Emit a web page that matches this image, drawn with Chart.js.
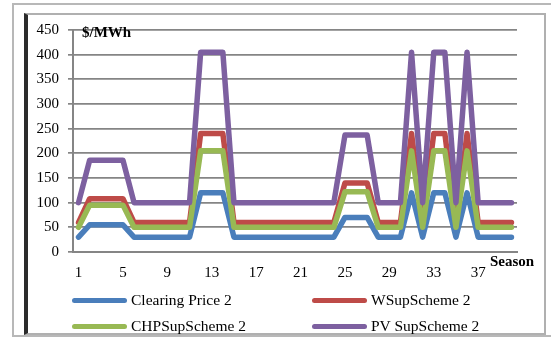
<!DOCTYPE html>
<html>
<head>
<meta charset="utf-8">
<script src="https://cdn.jsdelivr.net/npm/chart.js@4.4.1/dist/chart.umd.min.js"></script>
<style>
  html, body { margin: 0; padding: 0; background: #fff; }
  body { width: 551px; height: 343px; position: relative; overflow: hidden; font-family: "Liberation Serif", "Times New Roman", serif; }
  #outer { position: absolute; left: 12px; top: 3px; width: 560px; height: 334px; border: 2px solid #b8b8b8; box-sizing: border-box; }
  #inner { position: absolute; left: 24px; top: 13px; width: 522px; height: 322px; border: 2px solid #b0b0b0; border-left: 4px solid #2b2b2b; box-sizing: border-box; }
  #c { position: absolute; left: 0; top: 0; }
  .lbl { position: absolute; font-weight: bold; font-size: 15px; color: #000; white-space: nowrap; }
  .leg { position: absolute; display: flex; align-items: center; font-size: 15.5px; color: #000; white-space: nowrap; }
  .leg span.sw { display: inline-block; width: 55px; height: 5px; border-radius: 3px; margin-right: 4px; }
</style>
</head>
<body>
<div id="outer"></div>
<div id="inner"></div>
<canvas id="c" width="551" height="343"></canvas>
<div class="lbl" style="left:82px; top:24px;">$/MWh</div>
<div class="lbl" style="left:490px; top:253px;">Season</div>
<div id="legend"></div>
<script>
const seasons = ['1','2','3','4','5','6','7','8','9','10','11','12','13','14','15','16','17','18','19','20','21','22','23','24','25','26','27','28','29','30','31','32','33','34','35','36','37','38','39','40'];
const seriesNames = ['Clearing Price 2', 'WSupScheme 2', 'CHPSupScheme 2', 'PV SupScheme 2'];
const clearingPrice = [30,55,55,55,55,30,30,30,30,30,30,120,120,120,30,30,30,30,30,30,30,30,30,30,70,70,70,30,30,30,120,30,120,120,30,120,30,30,30,30];
const wSupScheme = [60,108,108,108,108,60,60,60,60,60,60,240,240,240,60,60,60,60,60,60,60,60,60,60,140,140,140,60,60,60,240,60,240,240,60,240,60,60,60,60];
const chpSupScheme = [50,95,95,95,95,50,50,50,50,50,50,205,205,205,50,50,50,50,50,50,50,50,50,50,122,122,122,50,50,50,205,50,205,205,50,205,50,50,50,50];
const pvSupScheme = [100,186,186,186,186,100,100,100,100,100,100,405,405,405,100,100,100,100,100,100,100,100,100,100,237,237,237,100,100,100,405,100,405,405,100,405,100,100,100,100];
const yTicks = [0,50,100,150,200,250,300,350,400,450];

const colors = ['#4A7EBB', '#BE4B48', '#98B954', '#7D60A0'];
const seriesData = [clearingPrice, wSupScheme, chpSupScheme, pvSupScheme];

const datasets = seriesData.map((d, i) => ({
  label: seriesNames[i],
  data: d,
  borderColor: colors[i],
  backgroundColor: colors[i],
  borderWidth: 5.5,
  pointRadius: 0,
  pointHoverRadius: 0,
  tension: 0,
  fill: false,
  borderJoinStyle: 'round',
  borderCapStyle: 'round',
  order: 4 - i
}));

const font = { family: '"Liberation Serif", "Times New Roman", serif', size: 15 };

new Chart(document.getElementById('c'), {
  type: 'line',
  data: { labels: seasons, datasets },
  options: {
    responsive: false,
    animation: false,
    events: [],
    layout: { padding: { top: 30, right: 34, bottom: 0, left: 0 } },
    plugins: { legend: { display: false }, tooltip: { enabled: false } },
    scales: {
      x: {
        type: 'category',
        offset: true,
        grid: { display: false },
        border: { display: true, color: '#858585', width: 2 },
        ticks: {
          color: '#000', font, autoSkip: false, maxRotation: 0, padding: 4,
          callback: function(v, i) { return (i % 4 === 0) ? seasons[i] : ''; }
        },
        afterFit: s => { s.height = 91; }
      },
      y: {
        min: yTicks[0], max: yTicks[yTicks.length - 1],
        afterBuildTicks: s => { s.ticks = yTicks.map(v => ({ value: v })); },
        grid: { color: '#858585', lineWidth: 1.7, tickLength: 5, drawTicks: true },
        border: { display: true, color: '#858585', width: 2 },
        ticks: { color: '#000', font, padding: 9 },
        afterFit: s => { s.width = 73; }
      }
    }
  }
});

const legendPos = [
  { left: 72, top: 291 }, { left: 312, top: 291 },
  { left: 72, top: 317 }, { left: 312, top: 317 }
];
const legendEl = document.getElementById('legend');
seriesNames.forEach((name, i) => {
  const d = document.createElement('div');
  d.className = 'leg';
  d.style.left = legendPos[i].left + 'px';
  d.style.top = legendPos[i].top + 'px';
  const sw = document.createElement('span');
  sw.className = 'sw';
  sw.style.background = colors[i];
  d.appendChild(sw);
  d.appendChild(document.createTextNode(name));
  legendEl.appendChild(d);
});
</script>
</body>
</html>
